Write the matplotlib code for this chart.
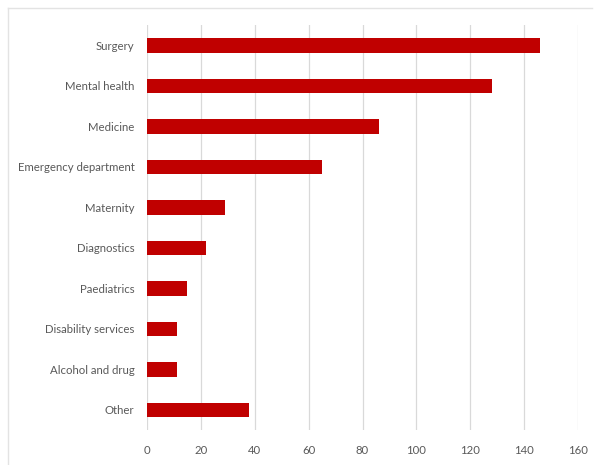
import matplotlib
matplotlib.use("Agg")
import matplotlib.pyplot as plt
from matplotlib.lines import Line2D

# categories top to bottom, counts
categories = ["Surgery", "Mental health", "Medicine", "Emergency department",
              "Maternity", "Diagnostics", "Paediatrics", "Disability services",
              "Alcohol and drug", "Other"]
counts = [146, 128, 86, 65, 29, 22, 15, 11, 11, 38]
xticks = [0, 20, 40, 60, 80, 100, 120, 140, 160]

BAR = "#C00000"
TXT = "#595959"
GRID = "#D9D9D9"

plt.rcParams["font.family"] = ["Lato", "DejaVu Sans"]

fig = plt.figure(figsize=(5.98, 4.65), dpi=100)
ax = fig.add_axes([0.2458, 0.075, 0.7208, 0.871])

ypos = list(range(len(categories)))
ax.barh(ypos, counts, height=0.36, color=BAR, zorder=3)
ax.set_yticks(ypos)
ax.set_yticklabels(categories)
ax.set_ylim(len(categories) - 0.5, -0.5)
ax.set_xlim(0, 160)
ax.set_xticks(xticks)

ax.grid(axis="x", color=GRID, linewidth=0.9, zorder=0)
for s in ax.spines.values():
    s.set_visible(False)
ax.tick_params(axis="both", length=0, labelsize=8.2, labelcolor=TXT)
ax.tick_params(axis="x", pad=11)
ax.tick_params(axis="y", pad=9)

# thin outer frame (top and left edges)
fig.add_artist(Line2D([8 / 598, 592 / 598], [1 - 8 / 465, 1 - 8 / 465],
                      transform=fig.transFigure, color="#E3E3E3", linewidth=1))
fig.add_artist(Line2D([8 / 598, 8 / 598], [0, 1 - 8 / 465],
                      transform=fig.transFigure, color="#E3E3E3", linewidth=1))

fig.savefig("out.png", dpi=100)
